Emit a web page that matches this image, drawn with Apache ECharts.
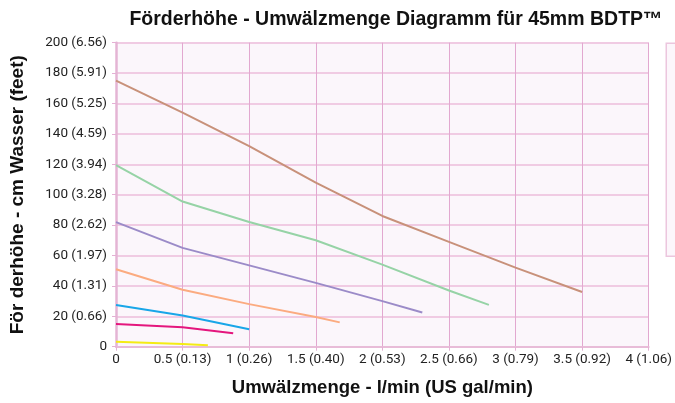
<!DOCTYPE html>
<html>
<head>
<meta charset="utf-8">
<script src="https://cdn.jsdelivr.net/npm/echarts@6/dist/echarts.min.js"></script>
<style>
  html, body { margin: 0; padding: 0; background: #fff; }
  #chart { width: 675px; height: 403px; }
</style>
</head>
<body>
<div id="chart"></div>
<script>
// Tick labels (l/min with US gal/min, cm with feet)
const xTicks = [0, 0.5, 1, 1.5, 2, 2.5, 3, 3.5, 4]
const xTickLabels = ['0', '0.5 (0.13)', '1 (0.26)', '1.5 (0.40)', '2 (0.53)', '2.5 (0.66)', '3 (0.79)', '3.5 (0.92)', '4 (1.06)']
const yTicks = [0, 20, 40, 60, 80, 100, 120, 140, 160, 180, 200]
const yTickLabels = ['0', '20 (0.66)', '40 (1.31)', '60 (1.97)', '80 (2.62)', '100 (3.28)', '120 (3.94)', '140 (4.59)', '160 (5.25)', '180 (5.91)', '200 (6.56)']

// pump curves, [flow l/min, head cm]
const curveBrown = [[0, 175], [0.5, 154], [1, 132], [1.5, 108], [2, 86], [2.5, 69], [3, 52], [3.5, 36]]
const curveGreen = [[0, 119.5], [0.5, 95.5], [1, 82], [1.5, 70], [2, 54], [2.5, 37], [2.8, 27.5]]
const curvePurple = [[0, 82], [0.5, 65], [1, 53.5], [1.5, 42], [2, 30], [2.3, 22.5]]
const curveOrange = [[0, 51], [0.5, 37.5], [1, 28], [1.5, 19.5], [1.68, 16]]
const curveBlue = [[0, 27.5], [0.5, 20.5], [1, 11.5]]
const curveMagenta = [[0, 15], [0.5, 12.8], [0.88, 8.8]]
const curveYellow = [[0, 3.3], [0.5, 1.8], [0.69, 0.9]]

const pink = '#e4b0d4'
const lineOf = (data, color) => ({
  type: 'line', data, symbol: 'none', silent: true,
  lineStyle: { color, width: 2 }
})

const chart = echarts.init(document.getElementById('chart'), null, { renderer: 'canvas' })
chart.setOption({
  animation: false,
  title: {
    text: 'Förderhöhe - Umwälzmenge Diagramm für 45mm BDTP™',
    left: 391, top: 5, textAlign: 'center',
    textStyle: { fontFamily: 'Liberation Sans', fontWeight: 'bold', fontSize: 19.5, color: '#111' }
  },
  grid: {
    left: 116, top: 42.7, right: 23, bottom: 56.3,
    show: true, backgroundColor: '#fbf6fb', borderWidth: 0
  },
  xAxis: {
    type: 'value', min: 0, max: 4, interval: 0.5,
    name: 'Umwälzmenge - l/min (US gal/min)', nameLocation: 'middle', nameGap: 32,
    nameTextStyle: { fontFamily: 'Liberation Sans', fontWeight: 'bold', fontSize: 18.5, color: '#111' },
    axisLine: { show: true, lineStyle: { color: '#e8bcd8', width: 2 } },
    axisTick: { show: true, length: 4, lineStyle: { color: pink } },
    axisLabel: {
      fontFamily: 'Roboto', fontSize: 13.5, color: '#222', margin: 6,
      formatter: v => xTickLabels[xTicks.indexOf(v)]
    },
    splitLine: { show: true, lineStyle: { color: '#e2a8d0', width: 1 } }
  },
  yAxis: {
    type: 'value', min: 0, max: 200, interval: 20,
    name: 'För derhöhe - cm Wasser (feet)', nameLocation: 'middle', nameGap: 89,
    nameTextStyle: { fontFamily: 'Liberation Sans', fontWeight: 'bold', fontSize: 19, color: '#111' },
    axisLine: { show: true, lineStyle: { color: '#e4b4d4', width: 2.5 } },
    axisTick: { show: true, length: 4, lineStyle: { color: pink } },
    axisLabel: {
      fontFamily: 'Roboto', fontSize: 13.5, color: '#222', margin: 9,
      formatter: v => yTickLabels[yTicks.indexOf(v)]
    },
    splitLine: { show: true, lineStyle: { color: '#f0cbe3', width: 2 } }
  },
  series: [
    lineOf(curveBrown, '#c8917a'),
    lineOf(curveGreen, '#96d3a6'),
    lineOf(curvePurple, '#9b8bc8'),
    lineOf(curveOrange, '#fbab80'),
    lineOf(curveBlue, '#19a6e8'),
    lineOf(curveMagenta, '#e4167d'),
    lineOf(curveYellow, '#f4ec14')
  ],
  graphic: [{
    type: 'rect', left: 665.5, top: 42.5, silent: true,
    shape: { width: 20, height: 213 },
    style: { fill: '#fcf6fb', stroke: '#ecc6de', lineWidth: 1.5 }
  }]
})
</script>
</body>
</html>
